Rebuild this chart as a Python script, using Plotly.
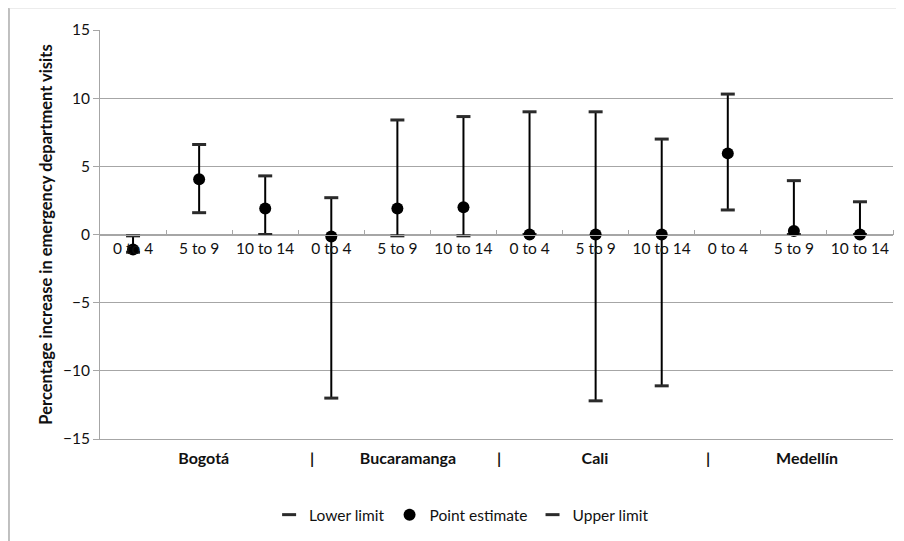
import plotly.graph_objects as go

age_groups = ["0 to 4", "5 to 9", "10 to 14"] * 4
cities = ["Bogotá", "Bucaramanga", "Cali", "Medellín"]
city_pos = [1.07, 4.16, 6.99, 10.2]
separators = ["|", "|", "|"]
separator_pos = [2.71, 5.54, 8.70]

point_estimate = [-1.1, 4.05, 1.9, -0.15, 1.9, 2.0, 0.0, 0.0, 0.0, 5.95, 0.25, 0.0]
lower_limit = [-1.3, 1.6, 0.0, -12.0, -0.1, -0.1, 0.0, -12.2, -11.1, 1.8, 0.0, 0.0]
upper_limit = [-0.1, 6.6, 4.3, 2.7, 8.4, 8.65, 9.0, 9.0, 7.0, 10.3, 3.95, 2.4]

x_idx = list(range(len(age_groups)))

FONT = "Lato, 'Open Sans', sans-serif"
GRID = "#a6a6a6"
TXT = "#111111"
CAP = "#2b2b2b"

lx, ly = [], []
for i, lo, hi in zip(x_idx, lower_limit, upper_limit):
    lx += [i, i, None]
    ly += [lo, hi, None]

fig = go.Figure()
fig.add_trace(go.Scatter(x=lx, y=ly, mode="lines", line=dict(color="black", width=2),
                         showlegend=False, hoverinfo="skip"))
fig.add_trace(go.Scatter(x=x_idx, y=lower_limit, mode="markers", name="Lower limit",
                         marker=dict(symbol="line-ew-open", size=10, color=CAP,
                                     line=dict(color=CAP, width=3))))
fig.add_trace(go.Scatter(x=x_idx, y=point_estimate, mode="markers", name="Point estimate",
                         marker=dict(symbol="circle", size=12, color="black")))
fig.add_trace(go.Scatter(x=x_idx, y=upper_limit, mode="markers", name="Upper limit",
                         marker=dict(symbol="line-ew-open", size=10, color=CAP,
                                     line=dict(color=CAP, width=3))))
# invisible trace to activate the bottom city axis
fig.add_trace(go.Scatter(x=[0, 11], y=[-15, -15], xaxis="x2", mode="markers",
                         marker=dict(opacity=0), showlegend=False, hoverinfo="skip"))

tickvals2 = city_pos + separator_pos
ticktext2 = ["<b>%s</b>" % c for c in cities] + ["<b>%s</b>" % s for s in separators]

fig.update_layout(
    width=904, height=541,
    margin=dict(l=92, r=19, t=22, b=110),
    paper_bgcolor="white", plot_bgcolor="white",
    font=dict(family=FONT, size=15, color=TXT),
    xaxis=dict(range=[-0.5, 11.5], tickvals=x_idx, ticktext=age_groups,
               anchor="free", position=0.5, showline=True, linecolor=GRID, linewidth=1,
               ticks="", showgrid=False, zeroline=False,
               tickfont=dict(size=15.5, color=TXT),
               minor=dict(tickvals=[i + 0.5 for i in x_idx], ticks="inside", ticklen=5,
                          tickcolor=GRID, showgrid=False)),
    xaxis2=dict(range=[-0.5, 11.5], overlaying="x", side="bottom", anchor="y",
                tickvals=tickvals2, ticktext=ticktext2, ticks="", showgrid=False,
                zeroline=False, showline=True, linecolor=GRID, linewidth=1,
                ticklabelstandoff=5, tickfont=dict(size=16, color=TXT)),
    yaxis=dict(range=[-15, 15], dtick=5, showgrid=True, gridcolor=GRID, gridwidth=1,
               zeroline=False, showline=True, linecolor=GRID, linewidth=1,
               ticks="outside", ticklen=6, tickcolor=GRID,
               tickfont=dict(size=15.5, color=TXT),
               title=dict(text="<b>Percentage increase in emergency department visits</b>",
                          font=dict(size=16.5, color=TXT), standoff=6)),
    legend=dict(orientation="h", x=0.456, xanchor="center", y=-0.186, yanchor="middle",
                font=dict(size=15.5, color=TXT), itemwidth=30, tracegroupgap=0,
                bgcolor="rgba(0,0,0,0)"),
    shapes=[
        dict(type="line", xref="paper", yref="paper", x0=-0.1148, x1=-0.1148,
             y0=1.0538, y1=-0.26, line=dict(color="#bfbfbf", width=2)),
        dict(type="line", xref="paper", yref="paper", x0=-0.1148, x1=1.03,
             y0=1.0538, y1=1.0538, line=dict(color="#d9d9d9", width=1)),
    ],
)

fig.write_html("out.html")
